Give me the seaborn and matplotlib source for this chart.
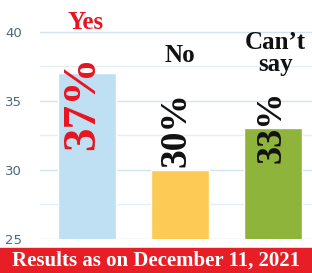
import seaborn as sns
import pandas as pd
import matplotlib.pyplot as plt
from matplotlib.ticker import MultipleLocator

# data
answers = ["Yes", "No", "Can\u2019t\nsay"]
shares = [37, 30, 33]
share_labels = ["37%", "30%", "33%"]
bar_colors = ["#bfdff3", "#fdcb55", "#8eb43c"]
label_colors = ["#e8141f", "#111111", "#111111"]
yticks = [25, 30, 35, 40]


def main():
    df = pd.DataFrame({"answer": answers, "share": shares})

    sns.set_style("white")
    fig = plt.figure(figsize=(3.12, 2.73), dpi=100)
    ax = fig.add_axes([40 / 312, 34 / 273, 272 / 312, 239 / 273])

    sns.barplot(data=df, x="answer", y="share", hue="answer", palette=bar_colors,
                saturation=1, width=0.63, legend=False, ax=ax, zorder=2)

    ax.set_ylim(25, 42.3)
    ax.set_xlim(-0.505, 2.42)
    ax.set_yticks(yticks)
    ax.yaxis.set_minor_locator(MultipleLocator(2.5))
    ax.grid(axis="y", which="major", color="#d2e4ef", lw=1.0, zorder=0)
    ax.grid(axis="y", which="minor", color="#e4eff6", lw=1.0, zorder=0)
    ax.set_axisbelow(True)
    for s in ax.spines.values():
        s.set_visible(False)
    ax.set_xticks([])
    ax.set_xlabel("")
    ax.set_ylabel("")
    ax.tick_params(axis="y", length=0, pad=13, labelsize=9.5, labelcolor="#4d6878")

    serif = ["Liberation Serif", "DejaVu Serif"]

    # rotated percentage labels
    pct_pos = [(-0.04, 34.86, 34), (-0.04, 32.9, 27), (-0.01, 33.1, 26)]
    for i, (dx, y, fs) in enumerate(pct_pos):
        ax.text(i + dx, y, share_labels[i], rotation=90, ha="center", va="center",
                fontsize=fs, fontweight="bold", family=serif, color=label_colors[i])

    # answer names above the bars
    name_pos = [(-0.02, 40.7), (0.0, 38.26), (0.03, 38.4)]
    for i, (dx, y) in enumerate(name_pos):
        ax.text(i + dx, y, answers[i], ha="center", va="center", fontsize=18,
                fontweight="bold", family=serif, color=label_colors[i],
                linespacing=0.95)

    # red banner at the bottom
    fig.patches.append(plt.Rectangle((0, 0), 1, 25 / 273, transform=fig.transFigure,
                                     color="#e81e27", zorder=5))
    fig.text(0.5, 12.5 / 273, "Results as on December 11, 2021", ha="center",
             va="center", color="white", fontsize=15, fontweight="bold",
             family=serif, zorder=6)

    fig.savefig("out.png", dpi=100)


if __name__ == "__main__":
    main()
